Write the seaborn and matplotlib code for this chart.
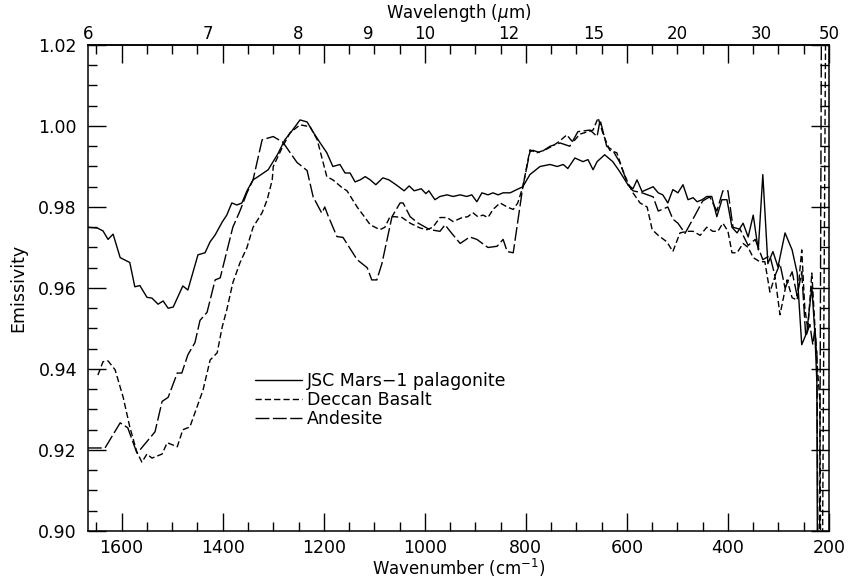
import numpy as np
import pandas as pd
import matplotlib
matplotlib.use("Agg")
import matplotlib.pyplot as plt
import seaborn as sns
from matplotlib.ticker import MultipleLocator, FormatStrFormatter, NullLocator, FixedLocator

# ---------------- data ----------------
jsc_wn = [1667, 1648, 1637, 1627, 1617, 1603, 1584, 1574, 1564, 1550, 1540, 1528, 1518, 1508, 1498,
          1479, 1469, 1449, 1435, 1425, 1415, 1401, 1392, 1382, 1372, 1362, 1352, 1340, 1330, 1310,
          1291, 1277, 1263, 1247, 1233, 1221, 1207, 1194, 1182, 1168, 1158, 1148, 1138, 1128, 1118,
          1108, 1097, 1083, 1071, 1057, 1041, 1031, 1021, 1007, 998, 992, 980, 970, 956, 944, 930,
          917, 907, 897, 887, 875, 865, 855, 845, 831, 818, 806, 792, 772, 752, 738, 726, 717, 703,
          687, 677, 667, 659, 644, 628, 614, 598, 588, 580, 570, 548, 538, 529, 519, 509, 499, 489,
          479, 469, 461, 451, 442, 432, 422, 412, 402, 392, 382, 370, 360, 350, 340, 331, 321, 311,
          301, 287, 273, 263, 254, 244, 234, 228, 224, 222]
jsc_em = [0.9750, 0.9748, 0.9741, 0.9720, 0.9733, 0.9675, 0.9663, 0.9603, 0.9606, 0.9577, 0.9575,
          0.9560, 0.9568, 0.9550, 0.9553, 0.9605, 0.9595, 0.9682, 0.9687, 0.9714, 0.9731, 0.9763,
          0.9780, 0.9810, 0.9805, 0.9810, 0.9840, 0.9867, 0.9875, 0.9892, 0.9931, 0.9966, 0.9988,
          1.0015, 1.0010, 0.9985, 0.9958, 0.9934, 0.9900, 0.9905, 0.9884, 0.9884, 0.9862, 0.9867,
          0.9875, 0.9867, 0.9855, 0.9872, 0.9867, 0.9855, 0.9840, 0.9852, 0.9840, 0.9845, 0.9833,
          0.9840, 0.9818, 0.9826, 0.9830, 0.9826, 0.9830, 0.9826, 0.9830, 0.9813, 0.9835, 0.9830,
          0.9835, 0.9830, 0.9835, 0.9835, 0.9843, 0.9850, 0.9880, 0.9900, 0.9905, 0.9900, 0.9905,
          0.9895, 0.9921, 0.9912, 0.9917, 0.9892, 0.9912, 0.9929, 0.9912, 0.9887, 0.9855, 0.9845,
          0.9867, 0.9838, 0.9850, 0.9835, 0.9830, 0.9810, 0.9843, 0.9835, 0.9855, 0.9818, 0.9823,
          0.9813, 0.9818, 0.9826, 0.9826, 0.9776, 0.9818, 0.9818, 0.9750, 0.9736, 0.9760, 0.9726,
          0.9780, 0.9694, 0.9880, 0.9660, 0.9690, 0.9652, 0.9736, 0.9694, 0.9637, 0.9460, 0.9490,
          0.9603, 0.9490, 0.9366, 0.8500]

dec_wn = [1647, 1637, 1627, 1613, 1597, 1584, 1570, 1560, 1550, 1540, 1520, 1510, 1490, 1479, 1465,
          1451, 1439, 1425, 1411, 1401, 1392, 1380, 1366, 1352, 1340, 1322, 1312, 1302, 1300, 1281,
          1267, 1247, 1227, 1213, 1194, 1182, 1164, 1154, 1134, 1122, 1108, 1089, 1079, 1069, 1059,
          1045, 1029, 1009, 996, 984, 970, 956, 944, 926, 915, 905, 895, 885, 875, 865, 851, 837,
          825, 816, 806, 792, 778, 762, 748, 736, 719, 707, 693, 677, 667, 657, 647, 634, 620, 608,
          598, 588, 574, 560, 550, 538, 521, 509, 495, 481, 469, 455, 442, 430, 420, 410, 400, 392,
          382, 370, 360, 350, 337, 327, 317, 307, 297, 283, 273, 263, 254, 248, 242, 234, 224, 218,
          215, 205]
dec_em = [0.9385, 0.9418, 0.9420, 0.9398, 0.9330, 0.9257, 0.9195, 0.9170, 0.9190, 0.9180, 0.9190,
          0.9218, 0.9208, 0.9250, 0.9257, 0.9306, 0.9348, 0.9422, 0.9440, 0.9504, 0.9546, 0.9613,
          0.9662, 0.9700, 0.9750, 0.9786, 0.9818, 0.9867, 0.9900, 0.9950, 0.9983, 1.0003, 0.9998,
          0.9966, 0.9875, 0.9867, 0.9848, 0.9840, 0.9800, 0.9780, 0.9756, 0.9744, 0.9750, 0.9776,
          0.9776, 0.9774, 0.9760, 0.9748, 0.9744, 0.9750, 0.9774, 0.9774, 0.9764, 0.9774, 0.9776,
          0.9786, 0.9776, 0.9780, 0.9774, 0.9794, 0.9810, 0.9800, 0.9794, 0.9810, 0.9850, 0.9941,
          0.9934, 0.9941, 0.9950, 0.9960, 0.9978, 0.9960, 0.9980, 0.9986, 0.9990, 1.0020, 0.9980,
          0.9940, 0.9934, 0.9890, 0.9860, 0.9835, 0.9810, 0.9800, 0.9744, 0.9730, 0.9714, 0.9690,
          0.9736, 0.9740, 0.9740, 0.9730, 0.9750, 0.9740, 0.9740, 0.9760, 0.9740, 0.9687, 0.9687,
          0.9710, 0.9700, 0.9675, 0.9665, 0.9665, 0.9590, 0.9628, 0.9534, 0.9620, 0.9576, 0.9570,
          0.9694, 0.9553, 0.9497, 0.9637, 0.9420, 0.9320, 0.8500, 1.0600]

and_wn = [1667, 1633, 1603, 1588, 1570, 1564, 1534, 1520, 1508, 1490, 1481, 1469, 1455, 1445, 1431,
          1415, 1405, 1392, 1380, 1366, 1352, 1340, 1322, 1300, 1281, 1253, 1233, 1221, 1204, 1198,
          1192, 1174, 1162, 1134, 1114, 1105, 1095, 1085, 1065, 1049, 1043, 1029, 1013, 990, 970,
          960, 950, 930, 911, 897, 875, 857, 845, 837, 825, 806, 792, 786, 772, 752, 732, 713, 697,
          673, 659, 653, 640, 628, 614, 598, 588, 570, 548, 538, 519, 509, 499, 485, 465, 450, 436,
          422, 410, 400, 390, 376, 360, 346, 331, 317, 307, 297, 287, 273, 263, 254, 246, 238, 232,
          228, 224, 220, 214]
and_em = [0.9205, 0.9205, 0.9267, 0.9255, 0.9193, 0.9200, 0.9245, 0.9320, 0.9330, 0.9390, 0.9390,
          0.9435, 0.9465, 0.9520, 0.9540, 0.9620, 0.9625, 0.9690, 0.9750, 0.9790, 0.9835, 0.9867,
          0.9966, 0.9974, 0.9960, 0.9910, 0.9890, 0.9825, 0.9785, 0.9800, 0.9780, 0.9727, 0.9725,
          0.9670, 0.9650, 0.9620, 0.9620, 0.9660, 0.9776, 0.9810, 0.9810, 0.9776, 0.9760, 0.9744,
          0.9740, 0.9756, 0.9740, 0.9710, 0.9726, 0.9720, 0.9700, 0.9703, 0.9720, 0.9690, 0.9687,
          0.9850, 0.9936, 0.9940, 0.9934, 0.9950, 0.9958, 0.9950, 0.9986, 0.9990, 0.9974, 1.0015,
          0.9950, 0.9940, 0.9910, 0.9855, 0.9840, 0.9835, 0.9825, 0.9790, 0.9800, 0.9770, 0.9760,
          0.9735, 0.9780, 0.9815, 0.9825, 0.9790, 0.9840, 0.9840, 0.9750, 0.9745, 0.9705, 0.9720,
          0.9670, 0.9680, 0.9630, 0.9660, 0.9600, 0.9640, 0.9580, 0.9640, 0.9480, 0.9510, 0.9460,
          0.9500, 0.9440, 0.8500, 1.0600]

series_names = ["JSC Mars\u22121 palagonite", "Deccan Basalt", "Andesite"]
wl_ticks = [6, 7, 8, 9, 10, 12, 15, 20, 30, 50]

# ---------------- style ----------------
sns.set_style("ticks")
plt.rcParams["font.family"] = ["DejaVu Sans"]
plt.rcParams["font.size"] = 12.5
plt.rcParams["axes.linewidth"] = 1.1
for key in ["text.color", "axes.labelcolor", "xtick.color", "ytick.color", "axes.edgecolor"]:
    plt.rcParams[key] = "black"

fig = plt.figure(figsize=(8.49, 5.80), dpi=100)
ax = fig.add_axes([88 / 849, 1 - 531 / 580, 741 / 849, 486 / 580])

frames = [
    pd.DataFrame({"wn": jsc_wn, "em": jsc_em}),
    pd.DataFrame({"wn": dec_wn, "em": dec_em}),
    pd.DataFrame({"wn": and_wn, "em": and_em}),
]
styles = ["-", (0, (4.5, 2.2)), (0, (10, 2.5))]
for df, name, ls in zip(frames, series_names, styles):
    sns.lineplot(data=df, x="wn", y="em", ax=ax, sort=False, estimator=None,
                 color="black", linewidth=1.0, linestyle=ls, label=name)

ax.set_xlim(10000 / 6, 200)
ax.set_ylim(0.90, 1.02)

ax.xaxis.set_major_locator(FixedLocator([1600, 1400, 1200, 1000, 800, 600, 400, 200]))
ax.xaxis.set_minor_locator(MultipleLocator(50))
ax.yaxis.set_major_locator(MultipleLocator(0.02))
ax.yaxis.set_minor_locator(MultipleLocator(0.005))
ax.yaxis.set_major_formatter(FormatStrFormatter("%.2f"))

ax.tick_params(which="both", direction="in", top=True, right=True, colors="black")
ax.tick_params(which="major", length=13, width=1.0, pad=6)
ax.tick_params(which="minor", length=6.5, width=1.0)
ax.tick_params(axis="y", which="major", pad=8)

ax.set_xlabel("Wavenumber (cm$^{-1}$)", labelpad=0, fontsize=12)
ax.set_ylabel("Emissivity", labelpad=8)

# top wavelength axis (labels only; ticks mirror the bottom axis)
sec = ax.secondary_xaxis("top", functions=(lambda x: 10000 / np.asarray(x, dtype=float),
                                           lambda x: 10000 / np.asarray(x, dtype=float)))
sec.set_xticks(wl_ticks)
sec.set_xticklabels([str(t) for t in wl_ticks])
sec.xaxis.set_minor_locator(NullLocator())
sec.tick_params(which="both", length=0, pad=1.5, labelsize=12)
ax.text(0.5, (531 - 13) / 486, "Wavelength ($\\mu$m)", transform=ax.transAxes,
        ha="center", va="center", fontsize=12)

leg = ax.legend(loc="upper left", bbox_to_anchor=((255 - 88) / 741, (531 - 372) / 486),
                frameon=False, borderpad=0, borderaxespad=0, labelspacing=0.05,
                handlelength=2.7, handletextpad=0.3, fontsize=12.5)

fig.savefig("out.png", dpi=100)
